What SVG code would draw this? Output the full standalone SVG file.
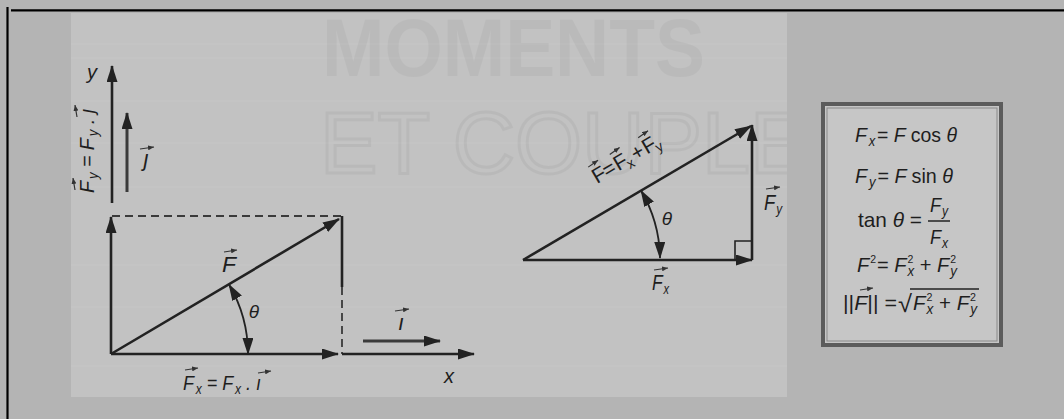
<svg xmlns="http://www.w3.org/2000/svg" width="1064" height="419" viewBox="0 0 1064 419">
<defs>
<style>
.t{font-family:"Liberation Sans",Arial,sans-serif;fill:#1e1e1e}
.it{font-style:italic}
.sub{font-size:14px}
.sup{font-size:11px}
.vec{stroke:#222;stroke-width:2.6;fill:none}
.thin{stroke:#333;stroke-width:1.2;fill:none}
.dash{stroke:#3a3a3a;stroke-width:1.8;stroke-dasharray:8 5;fill:none}
.wm{font-family:"Liberation Sans",Arial,sans-serif}
</style>
<marker id="ah" markerUnits="userSpaceOnUse" markerWidth="17" markerHeight="11" refX="16" refY="5.5" orient="auto-start-reverse" viewBox="0 0 17 11">
<path d="M0,0 L17,5.5 L0,11 z" fill="#222"/>
</marker>
<marker id="sa" markerUnits="userSpaceOnUse" markerWidth="6" markerHeight="5" refX="6" refY="2.5" orient="auto" viewBox="0 0 6 5">
<path d="M0,0 L6,2.5 L0,5 z" fill="#333"/>
</marker>
<clipPath id="pc"><rect x="71" y="13" width="716" height="384"/></clipPath>
</defs>
<rect width="1064" height="419" fill="#b4b4b4"/>
<line x1="7.5" y1="7" x2="7.5" y2="419" stroke="#000" stroke-width="2.2"/>
<line x1="11" y1="10.3" x2="1064" y2="10.3" stroke="#000" stroke-width="2.2"/>

<g id="panel">
<rect x="71" y="13" width="716" height="384" fill="#c2c2c2"/>
<g stroke="#c8c8c8" stroke-width="1" opacity="0.8">
<line x1="71" y1="44" x2="787" y2="44"/><line x1="71" y1="58" x2="787" y2="58"/>
<line x1="71" y1="101" x2="787" y2="101"/><line x1="71" y1="143" x2="787" y2="143"/>
<line x1="71" y1="187" x2="787" y2="187"/><line x1="71" y1="265" x2="787" y2="265"/>
<line x1="71" y1="307" x2="787" y2="307"/><line x1="71" y1="366" x2="787" y2="366"/>
</g>
<g clip-path="url(#pc)" opacity="0.18">
<text class="wm" x="322" y="76" font-size="82" font-weight="bold" fill="#9a9a9a" textLength="383" lengthAdjust="spacingAndGlyphs">MOMENTS</text>
<text class="wm" x="320" y="173" font-size="88" fill="none" stroke="#959595" stroke-width="3" textLength="545" lengthAdjust="spacingAndGlyphs">ET COUPLES</text>
</g>
</g>

<g id="connectors">
<line class="vec" x1="112" y1="203" x2="112" y2="66" marker-end="url(#ah)"/>
<line class="dash" x1="112" y1="216" x2="342" y2="216"/>
<line class="vec" x1="111" y1="354" x2="111" y2="217" marker-end="url(#ah)"/>
<line x1="127" y1="192" x2="127" y2="113" stroke="#3a3a3a" stroke-width="3" marker-end="url(#ah)"/>
<line class="vec" x1="111" y1="354" x2="339" y2="219" marker-end="url(#ah)"/>
<line class="vec" x1="111" y1="354" x2="338" y2="354" marker-end="url(#ah)"/>
<line class="vec" x1="342" y1="216" x2="342" y2="287"/>
<line class="dash" x1="342" y1="287" x2="342" y2="354"/>
<line class="vec" x1="342" y1="354" x2="474" y2="354" marker-end="url(#ah)"/>
<line x1="363" y1="341" x2="440" y2="341" stroke="#3a3a3a" stroke-width="3.2" marker-end="url(#ah)"/>
<path d="M229,284.5 A137,137 0 0 1 248,354" stroke="#222" stroke-width="1.8" fill="none" marker-start="url(#ah)" marker-end="url(#ah)"/>
<line class="vec" x1="523" y1="260" x2="751" y2="126" marker-end="url(#ah)"/>
<line class="vec" x1="523" y1="260" x2="752" y2="260" marker-end="url(#ah)"/>
<line class="vec" x1="752" y1="260" x2="752" y2="125" marker-end="url(#ah)"/>
<path d="M735,260 V241 H752" stroke="#222" stroke-width="1.6" fill="none"/>
<path d="M641,190.5 A137,137 0 0 1 660,258" stroke="#222" stroke-width="1.8" fill="none" marker-start="url(#ah)" marker-end="url(#ah)"/>
</g>

<g id="left-labels">
<text class="t it" x="92" y="79" font-size="20" text-anchor="middle">y</text>
<text class="t it" x="449" y="383" font-size="20" text-anchor="middle">x</text>
<text class="t it" x="229" y="272" font-size="22" text-anchor="middle" textLength="14" lengthAdjust="spacingAndGlyphs">F</text>
<line class="thin" x1="224" y1="252" x2="237" y2="250" marker-end="url(#sa)"/>
<text class="t it" x="254" y="318" font-size="19" text-anchor="middle">θ</text>
<text class="t it" x="401" y="330" font-size="22" text-anchor="middle">ı</text>
<line class="thin" x1="395" y1="311" x2="409" y2="309" marker-end="url(#sa)"/>
<text class="t it" x="146" y="166" font-size="22" text-anchor="middle">ȷ</text>
<line class="thin" x1="140" y1="149" x2="154" y2="147" marker-end="url(#sa)"/>
<g id="fx-label">
<text class="t it" x="183" y="390" font-size="21" textLength="78" lengthAdjust="spacingAndGlyphs">F<tspan class="sub" dx="2" dy="4">x</tspan><tspan dy="-4"> = F</tspan><tspan class="sub" dx="2" dy="4">x</tspan><tspan dy="-4"> . ı</tspan></text>
<line class="thin" x1="185" y1="370" x2="198" y2="368" marker-end="url(#sa)"/>
<line class="thin" x1="258" y1="373" x2="271" y2="371" marker-end="url(#sa)"/>
</g>
<g id="fy-label" transform="translate(94,193) rotate(-90)">
<text class="t it" x="0" y="0" font-size="21" textLength="84" lengthAdjust="spacingAndGlyphs">F<tspan class="sub" dx="2" dy="4">y</tspan><tspan dy="-4"> = F</tspan><tspan class="sub" dx="2" dy="4">y</tspan><tspan dy="-4"> . ȷ</tspan></text>
<line class="thin" x1="3" y1="-19" x2="15" y2="-21" marker-end="url(#sa)"/>
<line class="thin" x1="76" y1="-17" x2="88" y2="-19" marker-end="url(#sa)"/>
</g>
</g>

<g id="right-labels">
<text class="t it" x="667" y="225" font-size="19" text-anchor="middle">θ</text>
<text class="t it" x="764" y="210" font-size="22" textLength="18" lengthAdjust="spacingAndGlyphs">F<tspan class="sub" dx="1" dy="4">y</tspan></text>
<line class="thin" x1="766" y1="189" x2="780" y2="187" marker-end="url(#sa)"/>
<text class="t it" x="652" y="290" font-size="22" textLength="17" lengthAdjust="spacingAndGlyphs">F<tspan class="sub" dx="1" dy="4">x</tspan></text>
<line class="thin" x1="654" y1="270" x2="668" y2="268" marker-end="url(#sa)"/>
<g id="hyp-label" transform="translate(597,184) rotate(-30.5)">
<text class="t" font-size="21"><tspan x="0" y="0">F</tspan><tspan x="12" y="0">=</tspan><tspan x="25" y="0">F</tspan><tspan class="sub" x="36" y="4">x</tspan><tspan x="45" y="0">+</tspan><tspan x="58" y="0">F</tspan><tspan class="sub" x="69" y="4">y</tspan></text>
<line class="thin" x1="1" y1="-19" x2="13" y2="-20" marker-end="url(#sa)"/>
<line class="thin" x1="26" y1="-19" x2="38" y2="-20" marker-end="url(#sa)"/>
<line class="thin" x1="59" y1="-19" x2="71" y2="-20" marker-end="url(#sa)"/>
</g>
</g>

<g id="formula-box">
<rect x="823" y="104" width="178" height="241" fill="#c6c6c6" stroke="#5c5c5c" stroke-width="4"/>
<rect x="827" y="108" width="170" height="233" fill="none" stroke="#8a8a8a" stroke-width="1"/>
<text class="t" x="855" y="142" font-size="21" textLength="102" lengthAdjust="spacingAndGlyphs"><tspan class="it">F</tspan><tspan class="it sub" dx="2" dy="4">x</tspan><tspan dx="2" dy="-4">= </tspan><tspan class="it">F </tspan>cos <tspan class="it">θ</tspan></text>
<text class="t" x="855" y="183" font-size="21" textLength="98" lengthAdjust="spacingAndGlyphs"><tspan class="it">F</tspan><tspan class="it sub" dx="2" dy="4">y</tspan><tspan dx="2" dy="-4">= </tspan><tspan class="it">F </tspan>sin <tspan class="it">θ</tspan></text>
<text class="t" x="858" y="227" font-size="21" textLength="64" lengthAdjust="spacingAndGlyphs">tan <tspan class="it">θ</tspan> =</text>
<text class="t it" x="930" y="212" font-size="21" textLength="18" lengthAdjust="spacingAndGlyphs">F<tspan class="sub" dx="1" dy="4">y</tspan></text>
<line x1="928" y1="221" x2="950" y2="221" stroke="#222" stroke-width="1.5"/>
<text class="t it" x="930" y="244" font-size="21" textLength="18" lengthAdjust="spacingAndGlyphs">F<tspan class="sub" dx="1" dy="4">x</tspan></text>
<text class="t" x="857" y="272" font-size="21" textLength="100" lengthAdjust="spacingAndGlyphs"><tspan class="it">F</tspan><tspan class="sup" dx="1" dy="-9">2</tspan><tspan dx="1" dy="9">= </tspan><tspan class="it">F</tspan><tspan class="sup" dx="1" dy="-9">2</tspan><tspan class="it sub" dx="-6" dy="13">x</tspan><tspan dy="-4"> + </tspan><tspan class="it">F</tspan><tspan class="sup" dx="1" dy="-9">2</tspan><tspan class="it sub" dx="-6" dy="13">y</tspan></text>
<text class="t" x="843" y="310" font-size="21" textLength="54" lengthAdjust="spacingAndGlyphs">||<tspan class="it">F</tspan>|| =</text>
<line class="thin" x1="860" y1="290" x2="873" y2="288" marker-end="url(#sa)"/>
<text class="t" x="898" y="312" font-size="24" textLength="14" lengthAdjust="spacingAndGlyphs">√</text>
<line x1="910" y1="289" x2="979" y2="289" stroke="#222" stroke-width="1.5"/>
<text class="t" x="913" y="310" font-size="21" textLength="64" lengthAdjust="spacingAndGlyphs"><tspan class="it">F</tspan><tspan class="sup" dx="1" dy="-9">2</tspan><tspan class="it sub" dx="-6" dy="13">x</tspan><tspan dy="-4"> + </tspan><tspan class="it">F</tspan><tspan class="sup" dx="1" dy="-9">2</tspan><tspan class="it sub" dx="-6" dy="13">y</tspan></text>
</g>
</svg>
